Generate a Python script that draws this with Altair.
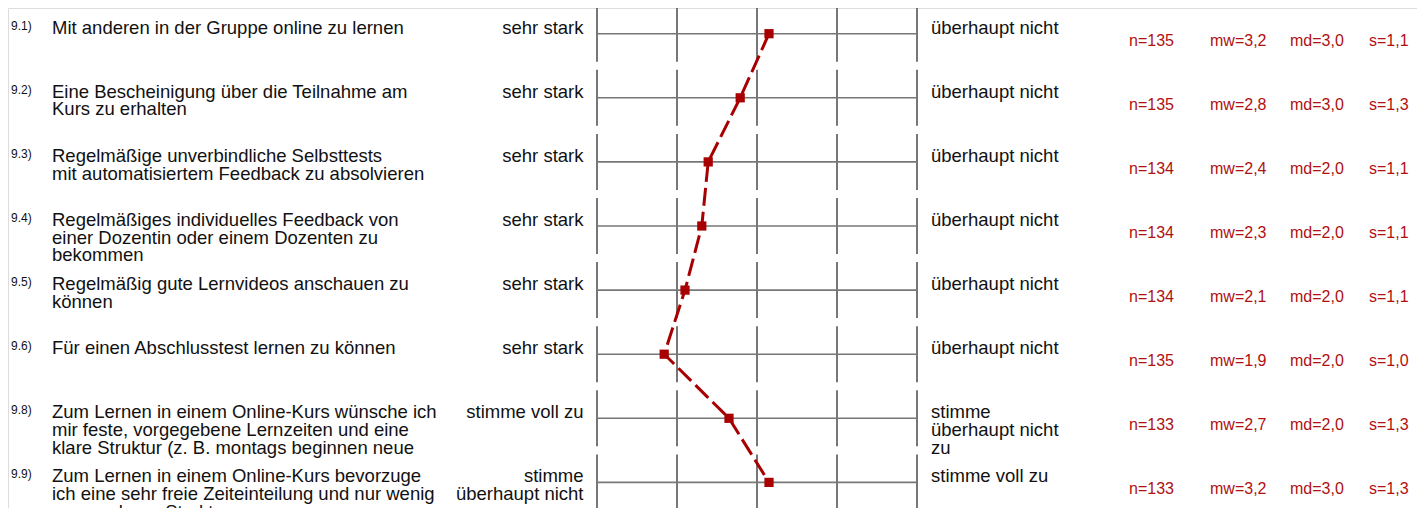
import altair as alt
import pandas as pd

# ---------------- data ----------------
numbers = ["9.1)", "9.2)", "9.3)", "9.4)", "9.5)", "9.6)", "9.8)", "9.9)"]
items = [
    "Mit anderen in der Gruppe online zu lernen",
    "Eine Bescheinigung über die Teilnahme am\nKurs zu erhalten",
    "Regelmäßige unverbindliche Selbsttests\nmit automatisiertem Feedback zu absolvieren",
    "Regelmäßiges individuelles Feedback von\neiner Dozentin oder einem Dozenten zu\nbekommen",
    "Regelmäßig gute Lernvideos anschauen zu\nkönnen",
    "Für einen Abschlusstest lernen zu können",
    "Zum Lernen in einem Online-Kurs wünsche ich\nmir feste, vorgegebene Lernzeiten und eine\nklare Struktur (z. B. montags beginnen neue",
    "Zum Lernen in einem Online-Kurs bevorzuge\nich eine sehr freie Zeiteinteilung und nur wenig\nvorgegebene Struktur.",
]
left_poles = ["sehr stark"] * 6 + ["stimme voll zu", "stimme\nüberhaupt nicht\nzu"]
right_poles = ["überhaupt nicht"] * 6 + ["stimme\nüberhaupt nicht\nzu", "stimme voll zu"]
profile = [3.15, 2.79, 2.39, 2.31, 2.10, 1.84, 2.65, 3.15]
n_vals = ["n=135", "n=135", "n=134", "n=134", "n=134", "n=135", "n=133", "n=133"]
mw_vals = ["mw=3,2", "mw=2,8", "mw=2,4", "mw=2,3", "mw=2,1", "mw=1,9", "mw=2,7", "mw=3,2"]
md_vals = ["md=3,0", "md=3,0", "md=2,0", "md=2,0", "md=2,0", "md=2,0", "md=2,0", "md=3,0"]
s_vals = ["s=1,1", "s=1,3", "s=1,1", "s=1,1", "s=1,1", "s=1,0", "s=1,3", "s=1,3"]
scale_points = [1, 2, 3, 4, 5]

# ---------------- layout ----------------
W, H = 1409, 500
X0, UNIT = 589.0, 80.0     # chart px of scale value 1, px per scale step
Y0, ROW = 25.7, 64.1       # chart px of first row, px per row
HALF = 28.0 / ROW          # half height of the vertical tick lines (rows)

FONT = "Liberation Sans"
BIG = 18.5
LH = 17.7
RED = "#a80000"
STAT_RED = "#b01010"
GRID = "#777777"

rows = list(range(len(items)))
df = pd.DataFrame({
    "row": rows, "num": numbers, "item": items, "lp": left_poles, "rp": right_poles,
    "prof": profile, "n": n_vals, "mw": mw_vals, "md": md_vals, "s": s_vals,
    "lo": [1] * len(rows), "hi": [5] * len(rows),
})
ticks = pd.DataFrame([
    {"row": r, "x": p, "y1": r - HALF, "y2": r + HALF} for r in rows for p in scale_points
])

xscale = alt.Scale(domain=[1 - X0 / UNIT, 1 + (W - X0) / UNIT], nice=False, zero=False)
yscale = alt.Scale(domain=[-Y0 / ROW, (H - Y0) / ROW], reverse=True, nice=False, zero=False)

def Y(field="row"):
    return alt.Y(f"{field}:Q", scale=yscale, axis=None)

def X(field):
    return alt.X(f"{field}:Q", scale=xscale, axis=None)

base = alt.Chart(df)

vlines = alt.Chart(ticks).mark_rule(color=GRID, strokeWidth=2).encode(
    x=X("x"), y=Y("y1"), y2="y2:Q")
hlines = base.mark_rule(color=GRID, strokeWidth=1.6).encode(
    x=X("lo"), x2="hi:Q", y=Y())
line = base.mark_line(color=RED, strokeWidth=3, strokeDash=[18, 6]).encode(
    x=X("prof"), y=Y(), order=alt.Order("row:Q"))
pts = base.mark_square(color=RED, size=85, opacity=1, filled=True).encode(
    x=X("prof"), y=Y())

def txt(field, xpx, size=BIG, dy=0, align="left", color="#111111"):
    return base.mark_text(
        font=FONT, fontSize=size, align=align, baseline="alphabetic", dy=dy,
        lineBreak="\n", lineHeight=LH, color=color,
    ).encode(x=alt.value(xpx), y=Y(), text=f"{field}:N")

layers = [
    vlines, hlines, line, pts,
    txt("num", 3, size=12, dy=-4),
    txt("item", 44),
    txt("lp", 575.5, align="right"),
    txt("rp", 923),
    txt("n", 1121, size=16, dy=12, color=STAT_RED),
    txt("mw", 1202, size=16, dy=12, color=STAT_RED),
    txt("md", 1282, size=16, dy=12, color=STAT_RED),
    txt("s", 1361, size=16, dy=12, color=STAT_RED),
]

chart = alt.layer(*layers).properties(
    width=W, height=H, padding=0, autosize=alt.AutoSizeParams(type="none")
).configure_view(stroke=None).configure(background="white")

chart.save("out.html", embed_options={"renderer": "svg", "actions": False})
